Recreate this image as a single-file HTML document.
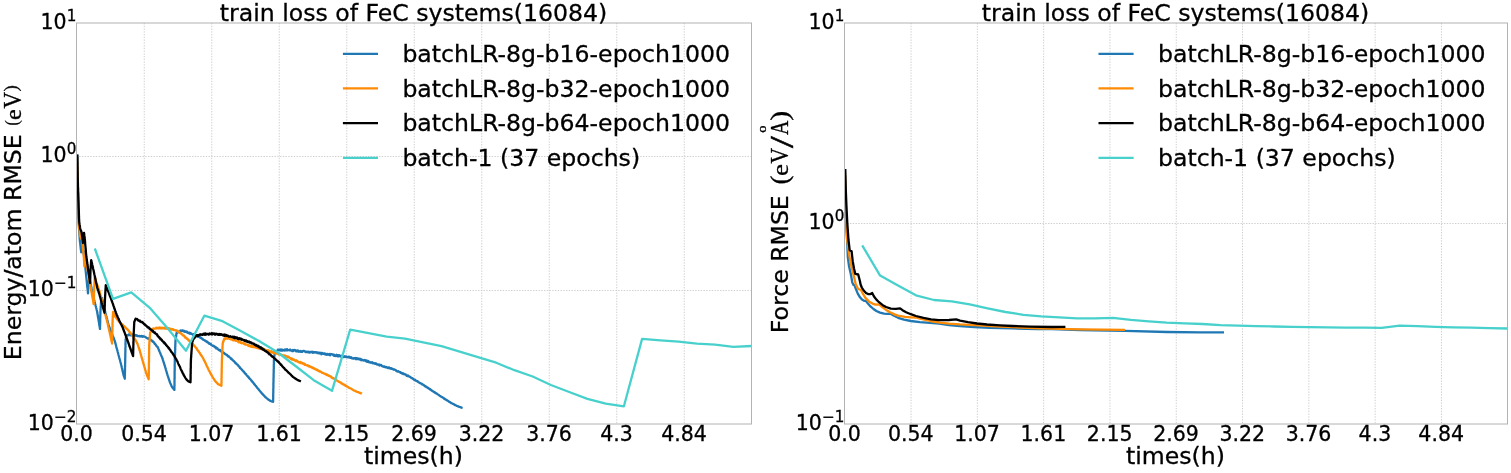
<!DOCTYPE html><html><head><meta charset="utf-8"><title>train loss of FeC systems</title><style>html,body{margin:0;padding:0;background:#fff}svg{display:block}text{font-family:"DejaVu Sans","Liberation Sans",sans-serif;fill:#000;stroke:#000;stroke-width:0.3px}.m{font-family:"Liberation Serif","DejaVu Serif",serif}</style></head><body>
<svg width="1511" height="473" viewBox="0 0 1511 473">
<rect width="1511" height="473" fill="#fff"/>
<line x1="144.25" y1="23.0" x2="144.25" y2="424.0" stroke="#cfcfcf" stroke-width="1" stroke-dasharray="1.4 1.35" fill="none"/>
<line x1="211.75" y1="23.0" x2="211.75" y2="424.0" stroke="#cfcfcf" stroke-width="1" stroke-dasharray="1.4 1.35" fill="none"/>
<line x1="279.25" y1="23.0" x2="279.25" y2="424.0" stroke="#cfcfcf" stroke-width="1" stroke-dasharray="1.4 1.35" fill="none"/>
<line x1="346.75" y1="23.0" x2="346.75" y2="424.0" stroke="#cfcfcf" stroke-width="1" stroke-dasharray="1.4 1.35" fill="none"/>
<line x1="414.25" y1="23.0" x2="414.25" y2="424.0" stroke="#cfcfcf" stroke-width="1" stroke-dasharray="1.4 1.35" fill="none"/>
<line x1="481.75" y1="23.0" x2="481.75" y2="424.0" stroke="#cfcfcf" stroke-width="1" stroke-dasharray="1.4 1.35" fill="none"/>
<line x1="549.25" y1="23.0" x2="549.25" y2="424.0" stroke="#cfcfcf" stroke-width="1" stroke-dasharray="1.4 1.35" fill="none"/>
<line x1="616.75" y1="23.0" x2="616.75" y2="424.0" stroke="#cfcfcf" stroke-width="1" stroke-dasharray="1.4 1.35" fill="none"/>
<line x1="684.25" y1="23.0" x2="684.25" y2="424.0" stroke="#cfcfcf" stroke-width="1" stroke-dasharray="1.4 1.35" fill="none"/>
<line x1="76.5" y1="156.50" x2="751.5" y2="156.50" stroke="#cfcfcf" stroke-width="1" stroke-dasharray="1.4 1.35" fill="none"/>
<line x1="76.5" y1="290.50" x2="751.5" y2="290.50" stroke="#cfcfcf" stroke-width="1" stroke-dasharray="1.4 1.35" fill="none"/>
<line x1="911.05" y1="23.0" x2="911.05" y2="424.0" stroke="#cfcfcf" stroke-width="1" stroke-dasharray="1.4 1.35" fill="none"/>
<line x1="977.35" y1="23.0" x2="977.35" y2="424.0" stroke="#cfcfcf" stroke-width="1" stroke-dasharray="1.4 1.35" fill="none"/>
<line x1="1043.65" y1="23.0" x2="1043.65" y2="424.0" stroke="#cfcfcf" stroke-width="1" stroke-dasharray="1.4 1.35" fill="none"/>
<line x1="1109.95" y1="23.0" x2="1109.95" y2="424.0" stroke="#cfcfcf" stroke-width="1" stroke-dasharray="1.4 1.35" fill="none"/>
<line x1="1176.25" y1="23.0" x2="1176.25" y2="424.0" stroke="#cfcfcf" stroke-width="1" stroke-dasharray="1.4 1.35" fill="none"/>
<line x1="1242.55" y1="23.0" x2="1242.55" y2="424.0" stroke="#cfcfcf" stroke-width="1" stroke-dasharray="1.4 1.35" fill="none"/>
<line x1="1308.85" y1="23.0" x2="1308.85" y2="424.0" stroke="#cfcfcf" stroke-width="1" stroke-dasharray="1.4 1.35" fill="none"/>
<line x1="1375.15" y1="23.0" x2="1375.15" y2="424.0" stroke="#cfcfcf" stroke-width="1" stroke-dasharray="1.4 1.35" fill="none"/>
<line x1="1441.45" y1="23.0" x2="1441.45" y2="424.0" stroke="#cfcfcf" stroke-width="1" stroke-dasharray="1.4 1.35" fill="none"/>
<line x1="844.5" y1="223.50" x2="1507.5" y2="223.50" stroke="#cfcfcf" stroke-width="1" stroke-dasharray="1.4 1.35" fill="none"/>
<defs><clipPath id="cl"><rect x="76.5" y="23.0" width="675.0" height="401.0"/></clipPath><clipPath id="cr"><rect x="844.5" y="23.0" width="663.0" height="401.0"/></clipPath></defs>
<polyline clip-path="url(#cl)" points="77.3,154.4 77.3,155.4 77.3,156.4 77.4,157.5 77.4,158.5 77.4,159.5 77.4,160.5 77.4,161.5 77.5,162.5 77.5,163.6 77.5,164.6 77.5,165.6 77.5,166.6 77.6,167.6 77.6,168.6 77.6,169.7 77.6,170.7 77.6,171.7 77.7,172.7 77.7,173.7 77.7,174.7 77.7,175.8 77.7,176.8 77.8,177.8 77.8,178.8 77.8,179.8 77.8,180.8 77.8,181.9 77.9,182.9 77.9,183.9 77.9,184.9 77.9,185.9 77.9,186.9 78.0,188.0 78.0,189.0 78.0,190.0 78.0,191.0 78.0,192.0 78.1,193.0 78.1,194.0 78.1,195.0 78.1,196.0 78.1,197.0 78.2,198.0 78.2,199.0 78.2,200.0 78.2,201.0 78.2,202.0 78.2,203.0 78.3,204.0 78.3,205.0 78.3,206.0 78.3,207.0 78.3,208.0 78.4,209.0 78.4,210.0 78.4,211.0 78.4,212.0 78.4,213.0 78.4,214.0 78.5,215.0 78.5,216.0 78.5,217.0 78.5,218.0 78.5,219.0 78.6,220.0 78.6,221.0 78.6,222.0 78.7,223.0 78.7,224.0 78.8,225.0 78.9,226.0 78.9,227.0 79.0,228.0 79.1,229.0 79.1,230.0 79.2,231.0 79.3,232.0 79.3,233.0 79.4,234.0 79.5,235.0 79.5,236.0 79.6,237.0 79.7,238.0 79.7,239.0 79.8,240.0 79.9,241.0 80.0,242.1 80.2,243.1 80.3,244.1 80.4,245.1 80.5,246.2 80.6,247.2 80.7,248.2 80.8,249.2 81.0,250.2 81.1,251.3 81.2,252.3 81.2,251.3 81.3,250.2 81.3,249.2 81.4,248.2 81.5,247.1 81.5,246.1 81.5,245.0 81.6,244.0 81.7,242.8 81.9,241.7 82.0,240.5 82.1,241.5 82.3,242.6 82.4,243.6 82.5,244.7 82.7,245.7 82.8,246.8 83.0,247.8 83.1,248.9 83.2,249.9 83.4,251.0 83.5,252.0 83.6,253.0 83.7,254.0 83.9,255.0 84.0,256.0 84.1,257.0 84.2,258.0 84.3,259.0 84.5,260.0 84.6,261.0 84.7,262.0 84.8,263.0 84.9,264.0 85.0,265.0 85.2,266.0 85.3,267.0 85.4,268.0 85.5,269.0 85.6,270.0 85.7,271.0 85.8,272.0 85.9,273.0 86.0,274.0 86.1,275.0 86.2,276.0 86.3,277.0 86.4,278.0 86.5,279.0 86.6,280.0 86.7,281.0 86.8,282.0 86.9,283.0 87.0,284.1 87.1,285.1 87.2,286.1 87.3,287.1 87.5,288.2 87.6,289.2 87.7,290.2 87.8,291.2 87.9,292.3 88.0,293.3 88.1,292.3 88.1,291.2 88.2,290.2 88.2,289.2 88.3,288.1 88.3,287.1 88.4,286.1 88.4,285.0 88.5,284.0 88.7,282.9 88.8,281.8 89.0,280.7 89.1,279.6 89.3,278.5 89.6,279.6 89.9,280.8 90.2,281.9 90.5,283.0 90.7,284.0 90.9,285.0 91.1,286.0 91.3,287.0 91.4,288.0 91.6,289.0 91.8,290.0 92.0,291.0 92.2,292.0 92.5,293.0 92.7,294.0 93.0,295.0 93.2,296.0 93.5,297.0 93.7,298.0 94.0,299.0 94.2,300.0 94.5,301.0 94.7,302.0 95.0,303.0 95.2,304.0 95.5,305.0 95.7,306.0 96.0,307.0 96.2,308.0 96.5,309.0 96.7,310.0 97.0,311.0 97.2,312.0 97.3,313.0 97.5,314.0 97.7,315.0 97.8,316.0 98.0,317.0 98.2,318.0 98.4,319.0 98.5,320.0 98.7,321.0 98.9,322.0 99.0,323.0 99.2,324.0 99.3,324.9 99.5,325.9 99.7,326.9 99.8,327.9 100.0,328.9 100.0,327.8 100.0,326.8 100.1,325.7 100.1,324.7 100.1,323.6 100.2,322.6 100.2,321.5 100.2,320.4 100.2,319.4 100.2,318.3 100.3,317.3 100.3,316.2 100.3,315.2 100.4,314.1 100.4,313.1 100.4,312.0 100.5,311.0 100.5,309.9 100.6,308.9 100.7,307.8 100.7,306.8 100.8,305.8 100.9,304.7 100.9,303.7 101.0,302.6 101.1,301.6 101.1,300.5 101.2,299.5 102.0,298.0 102.2,299.0 102.5,300.0 102.7,301.0 102.9,302.0 103.1,303.0 103.4,304.0 103.6,305.0 103.8,306.0 104.0,307.0 104.3,308.0 104.5,309.0 104.8,310.0 105.0,311.0 105.3,312.0 105.5,313.0 105.8,314.0 106.1,315.0 106.3,316.0 106.6,317.0 106.8,318.0 107.1,319.0 107.3,320.0 107.6,321.0 107.9,322.0 108.1,323.0 108.4,324.0 108.6,325.0 108.9,326.0 109.3,327.0 109.7,328.0 110.1,329.0 110.5,330.0 110.8,331.0 111.2,332.0 111.6,333.0 112.0,334.0 112.4,334.9 112.8,335.9 113.2,336.8 113.5,337.8 113.9,338.7 114.3,339.7 114.7,340.6 115.0,341.6 115.2,342.7 115.5,343.7 115.8,344.7 116.1,345.8 116.3,346.8 116.6,347.8 116.9,348.9 117.2,349.9 117.5,350.9 117.7,352.0 118.0,353.0 118.3,354.0 118.5,355.0 118.8,356.0 119.1,357.0 119.3,358.0 119.6,359.0 119.9,360.0 120.2,361.0 120.4,362.0 120.7,363.0 121.0,364.0 121.2,365.0 121.5,366.0 121.7,367.0 121.9,368.0 122.2,369.0 122.4,370.0 122.6,371.0 122.8,372.0 123.1,373.0 123.3,374.0 123.5,375.0 123.9,376.2 124.4,377.5 124.8,378.7 124.8,377.7 124.8,376.6 124.9,375.6 124.9,374.5 124.9,373.5 124.9,372.5 125.0,371.4 125.0,370.4 125.0,369.4 125.0,368.3 125.0,367.3 125.1,366.2 125.1,365.2 125.1,364.2 125.1,363.1 125.2,362.1 125.2,361.0 125.2,360.0 125.2,359.0 125.2,358.0 125.3,357.0 125.3,356.0 125.3,355.0 125.3,354.0 125.3,353.0 125.4,352.0 125.4,351.0 125.4,350.0 125.4,349.0 125.4,348.0 125.5,347.0 125.5,346.0 125.5,345.0 125.5,344.0 125.5,343.0 125.6,342.0 125.6,341.0 125.6,340.0 125.8,338.9 125.9,337.9 126.1,336.8 126.3,335.7 126.7,335.3 127.1,335.5 127.5,335.2 127.9,335.3 128.3,335.2 128.7,334.5 129.1,334.3 129.5,335.1 129.9,334.4 130.3,334.4 130.7,335.2 131.1,334.8 131.5,335.2 131.9,334.9 132.3,335.1 132.7,334.7 133.1,335.2 133.5,335.5 133.9,335.3 134.3,335.5 134.7,335.5 135.1,335.0 135.5,335.7 135.9,335.6 136.3,335.4 136.7,335.2 137.1,336.1 137.5,335.8 137.9,336.0 138.3,336.2 138.7,336.1 139.1,336.3 139.5,335.9 139.9,336.3 140.3,336.1 140.7,336.5 141.1,336.5 141.5,335.9 141.9,336.0 142.3,336.1 142.7,336.8 143.1,336.4 143.5,336.6 143.9,336.3 144.3,336.7 144.7,336.7 145.1,336.9 145.5,337.2 145.9,337.4 146.3,337.8 146.6,337.8 147.0,338.2 147.4,338.3 147.8,338.6 148.2,338.5 148.6,338.3 149.0,339.0 149.3,339.3 149.7,339.5 150.0,339.5 150.4,339.8 150.7,339.7 151.0,340.4 151.4,340.5 151.7,340.5 152.0,340.6 152.4,341.4 152.7,341.7 153.1,341.4 153.4,342.1 153.7,342.2 153.9,342.3 154.2,342.7 154.4,343.3 154.7,343.7 154.9,343.5 155.2,344.2 155.4,344.2 155.7,344.9 155.9,345.0 156.2,345.6 156.4,346.0 156.7,346.0 156.9,346.6 157.2,346.6 157.4,346.8 157.7,347.3 157.9,347.4 158.1,347.8 158.2,348.3 158.4,348.8 158.5,349.0 158.7,349.3 158.9,350.0 159.0,350.2 159.2,350.8 159.4,351.2 159.5,351.3 159.7,351.7 159.8,352.1 160.0,352.6 160.2,352.9 160.3,353.3 160.5,353.7 160.6,354.2 160.8,354.4 160.9,354.7 161.1,355.2 161.2,355.4 161.4,355.8 161.6,356.4 161.7,356.6 161.9,357.0 162.0,357.2 162.2,357.7 162.3,358.2 162.5,358.4 162.6,358.9 162.8,359.3 162.9,359.6 163.0,360.1 163.1,360.5 163.2,361.0 163.4,361.3 163.5,361.8 163.6,362.2 163.8,362.4 163.9,362.8 164.0,363.3 164.1,363.8 164.2,364.0 164.4,364.5 164.5,364.9 164.6,365.3 164.8,365.7 164.9,366.1 165.0,366.5 165.1,366.9 165.2,367.2 165.3,367.6 165.5,368.1 165.6,368.3 165.7,368.8 165.8,369.3 165.9,369.6 166.0,369.9 166.1,370.4 166.2,370.7 166.4,371.1 166.5,371.5 166.6,371.9 166.7,372.2 166.8,372.6 166.9,373.0 167.0,373.5 167.2,373.8 167.3,374.3 167.4,374.6 167.5,375.0 167.6,375.4 167.8,375.9 167.9,376.2 168.0,376.5 168.2,376.9 168.3,377.4 168.4,377.7 168.6,378.2 168.7,378.6 168.8,378.9 168.9,379.3 169.1,379.8 169.2,380.1 169.3,380.6 169.5,380.9 169.6,381.3 169.7,381.7 169.9,382.1 170.0,382.5 170.2,382.9 170.3,383.2 170.5,383.6 170.7,384.0 170.8,384.4 171.0,384.7 171.2,385.1 171.3,385.5 171.5,385.9 171.7,386.3 171.8,386.6 172.0,387.0 172.3,387.3 172.5,387.6 172.8,388.0 173.1,388.3 173.3,388.6 173.6,388.9 173.9,389.3 174.1,389.6 174.4,389.9 174.4,389.5 174.4,389.1 174.4,388.7 174.4,388.3 174.4,387.9 174.4,387.5 174.4,387.1 174.4,386.7 174.4,386.3 174.5,385.9 174.5,385.5 174.5,385.1 174.5,384.6 174.5,384.2 174.5,383.8 174.5,383.4 174.5,383.0 174.5,382.6 174.5,382.2 174.5,381.8 174.5,381.4 174.5,381.0 174.5,380.6 174.5,380.2 174.5,379.8 174.5,379.4 174.5,379.0 174.6,378.6 174.6,378.2 174.6,377.8 174.6,377.4 174.6,377.0 174.6,376.6 174.6,376.2 174.6,375.8 174.6,375.4 174.6,374.9 174.6,374.5 174.6,374.1 174.6,373.7 174.6,373.3 174.6,372.9 174.6,372.5 174.6,372.1 174.6,371.7 174.6,371.3 174.7,370.9 174.7,370.5 174.7,370.1 174.7,369.7 174.7,369.3 174.7,368.9 174.7,368.5 174.7,368.1 174.7,367.7 174.7,367.3 174.7,366.9 174.7,366.5 174.7,366.1 174.7,365.7 174.7,365.3 174.7,364.8 174.7,364.4 174.7,364.0 174.8,363.6 174.8,363.2 174.8,362.8 174.8,362.4 174.8,362.0 174.8,361.6 174.8,361.2 174.8,360.8 174.8,360.4 174.8,360.0 174.8,359.6 174.8,359.2 174.8,358.8 174.9,358.4 174.9,358.0 174.9,357.6 174.9,357.2 174.9,356.8 174.9,356.4 174.9,356.0 175.0,355.6 175.0,355.2 175.0,354.8 175.0,354.4 175.0,354.0 175.0,353.6 175.0,353.2 175.1,352.8 175.1,352.4 175.1,352.0 175.1,351.6 175.1,351.2 175.1,350.8 175.1,350.4 175.2,350.0 175.2,349.6 175.2,349.2 175.2,348.8 175.2,348.4 175.2,348.0 175.2,347.6 175.2,347.2 175.3,346.8 175.3,346.4 175.3,346.0 175.3,345.6 175.3,345.2 175.3,344.8 175.3,344.4 175.4,344.0 175.4,343.6 175.4,343.2 175.4,342.8 175.4,342.4 175.4,342.0 175.4,341.6 175.5,341.2 175.5,340.8 175.5,340.4 175.5,340.0 175.6,339.6 175.6,339.2 175.7,338.8 175.8,338.4 175.8,338.0 175.9,337.6 175.9,337.2 176.0,336.8 176.1,336.3 176.1,335.9 176.2,335.5 176.2,335.1 176.3,334.7 176.4,334.3 176.4,333.9 176.5,333.2 176.8,332.7 177.0,332.9 177.3,332.2 177.5,332.5 177.8,331.3 178.2,332.2 178.6,331.8 179.0,332.0 179.4,331.9 179.8,331.8 180.2,331.3 180.5,330.5 180.9,331.3 181.3,330.5 181.7,330.6 182.1,330.9 182.5,330.6 182.9,330.4 183.3,331.2 183.7,330.9 184.1,330.8 184.4,330.8 184.8,331.7 185.2,331.4 185.6,331.9 186.0,331.6 186.4,331.5 186.8,332.1 187.2,332.6 187.5,332.0 187.9,332.8 188.3,333.1 188.7,333.2 189.1,333.3 189.5,332.6 189.9,333.4 190.2,333.8 190.6,333.1 191.0,333.5 191.4,333.6 191.8,334.1 192.2,334.1 192.5,334.3 192.9,334.8 193.3,334.1 193.7,334.3 194.1,334.6 194.5,334.7 194.8,334.8 195.2,336.0 195.6,336.0 196.0,335.3 196.4,335.9 196.7,335.9 197.1,336.0 197.5,336.2 197.9,336.7 198.3,336.8 198.7,336.7 199.0,336.7 199.4,337.0 199.8,336.9 200.1,337.6 200.5,338.0 200.8,337.8 201.2,337.7 201.5,338.1 201.9,338.5 202.2,338.9 202.6,339.3 202.9,339.1 203.2,339.8 203.6,339.8 203.9,339.9 204.3,340.0 204.6,340.4 205.0,340.8 205.3,340.7 205.6,341.2 206.0,341.2 206.3,341.2 206.7,341.7 207.0,342.1 207.4,341.7 207.7,342.3 208.1,342.5 208.4,343.1 208.7,343.4 209.1,343.1 209.4,343.8 209.8,343.9 210.1,343.6 210.5,344.0 210.8,343.9 211.1,344.8 211.5,344.9 211.8,345.3 212.2,345.5 212.5,345.6 212.8,345.9 213.2,345.9 213.5,345.7 213.9,346.4 214.2,346.1 214.5,346.5 214.9,347.3 215.2,346.8 215.6,347.1 215.9,347.3 216.2,348.3 216.6,347.9 216.9,347.9 217.3,348.9 217.6,348.5 217.9,349.4 218.3,349.4 218.6,349.8 219.0,350.1 219.3,350.0 219.6,350.5 220.0,350.0 220.3,350.9 220.7,350.9 221.0,351.3 221.3,351.0 221.7,351.8 222.0,352.2 222.4,351.7 222.7,352.1 223.0,352.6 223.4,353.0 223.7,352.8 224.1,352.9 224.4,353.2 224.7,353.8 225.1,354.1 225.4,354.1 225.8,354.3 226.1,354.6 226.4,354.7 226.8,355.0 227.1,355.0 227.5,355.6 227.8,356.2 228.1,356.0 228.5,356.5 228.8,356.2 229.2,356.9 229.5,357.2 229.8,357.4 230.1,357.6 230.4,357.8 230.7,358.3 231.0,358.8 231.3,358.4 231.6,358.7 231.9,359.5 232.2,359.9 232.5,359.9 232.8,360.1 233.0,360.6 233.3,360.5 233.6,360.8 233.9,361.1 234.2,361.6 234.5,361.7 234.8,362.0 235.1,362.6 235.4,363.1 235.7,362.9 236.0,363.4 236.3,363.5 236.6,364.2 236.8,364.3 237.1,364.4 237.4,364.6 237.7,364.8 238.0,365.4 238.3,365.7 238.5,365.8 238.8,366.3 239.1,366.5 239.4,367.1 239.7,367.0 239.9,367.9 240.2,367.9 240.5,368.2 240.8,368.5 241.1,369.0 241.4,369.3 241.6,369.4 241.9,369.7 242.2,370.1 242.5,370.5 242.7,370.5 243.0,371.0 243.3,371.5 243.5,371.5 243.8,371.6 244.1,371.9 244.3,372.5 244.6,372.8 244.8,373.3 245.1,373.5 245.4,373.5 245.6,373.7 245.9,374.1 246.2,374.3 246.4,374.9 246.7,375.3 247.0,375.6 247.2,375.6 247.5,376.2 247.8,376.2 248.0,376.6 248.3,377.1 248.6,377.1 248.9,377.4 249.1,378.1 249.4,378.1 249.7,378.5 249.9,378.9 250.2,379.3 250.5,379.3 250.8,379.7 251.0,380.1 251.3,380.5 251.6,380.6 251.8,381.1 252.1,381.6 252.4,381.7 252.7,382.1 252.9,382.2 253.2,382.6 253.5,383.1 253.7,383.2 254.0,383.8 254.2,384.1 254.5,384.1 254.7,384.8 255.0,384.9 255.3,385.4 255.5,385.7 255.8,385.8 256.0,386.3 256.3,386.6 256.5,387.0 256.8,387.1 257.1,387.6 257.3,388.0 257.6,388.2 257.8,388.4 258.1,388.6 258.4,389.1 258.6,389.3 258.9,389.8 259.1,390.1 259.4,390.4 259.6,390.5 259.9,391.0 260.2,391.3 260.4,391.5 260.7,392.1 260.9,392.3 261.2,392.4 261.4,393.0 261.7,393.1 262.0,393.5 262.3,393.9 262.6,394.2 262.9,394.4 263.2,394.8 263.5,395.0 263.7,395.3 264.0,395.6 264.3,395.9 264.6,396.3 264.9,396.6 265.2,396.9 265.5,397.3 265.8,397.4 266.2,397.7 266.5,398.0 266.8,398.4 267.2,398.5 267.5,398.9 267.8,399.1 268.2,399.5 268.5,399.7 268.9,399.9 269.2,400.1 269.6,400.3 269.9,400.6 270.3,400.8 270.6,401.0 271.0,401.2 271.4,401.3 271.8,401.4 272.3,401.5 272.7,401.7 273.1,401.8 273.1,401.4 273.1,401.0 273.1,400.6 273.1,400.2 273.1,399.8 273.1,399.4 273.2,399.0 273.2,398.6 273.2,398.2 273.2,397.8 273.2,397.4 273.2,397.0 273.2,396.6 273.2,396.1 273.2,395.7 273.2,395.3 273.2,394.9 273.2,394.5 273.2,394.1 273.2,393.7 273.3,393.3 273.3,392.9 273.3,392.5 273.3,392.1 273.3,391.7 273.3,391.3 273.3,390.9 273.3,390.5 273.3,390.1 273.3,389.7 273.3,389.3 273.3,388.9 273.3,388.5 273.4,388.1 273.4,387.7 273.4,387.3 273.4,386.9 273.4,386.5 273.4,386.1 273.4,385.7 273.4,385.2 273.4,384.8 273.4,384.4 273.4,384.0 273.4,383.6 273.4,383.2 273.4,382.8 273.5,382.4 273.5,382.0 273.5,381.6 273.5,381.2 273.5,380.8 273.5,380.4 273.5,380.0 273.5,379.6 273.5,379.2 273.5,378.8 273.5,378.4 273.5,378.0 273.6,377.6 273.6,377.2 273.6,376.8 273.6,376.4 273.6,376.0 273.6,375.6 273.6,375.2 273.6,374.8 273.6,374.4 273.6,374.0 273.6,373.6 273.7,373.2 273.7,372.8 273.7,372.4 273.7,372.0 273.7,371.6 273.7,371.2 273.7,370.8 273.7,370.4 273.7,370.0 273.7,369.6 273.7,369.2 273.8,368.8 273.8,368.4 273.8,368.0 273.8,367.6 273.8,367.2 273.8,366.8 273.8,366.4 273.8,366.0 273.8,365.6 273.8,365.2 273.8,364.8 273.9,364.4 273.9,364.0 273.9,363.6 273.9,363.2 273.9,362.8 273.9,362.4 273.9,362.0 273.9,361.6 273.9,361.2 273.9,360.8 273.9,360.4 274.0,360.0 274.0,359.6 274.0,359.2 274.0,358.8 274.0,358.4 274.0,358.0 274.1,357.6 274.2,357.2 274.2,356.7 274.3,356.3 274.4,355.9 274.5,355.5 274.5,355.0 274.6,354.6 274.7,354.2 274.8,353.8 274.8,353.3 274.9,352.9 275.0,352.8 275.4,351.8 275.7,351.5 276.1,351.6 276.4,351.8 276.8,351.6 277.1,351.2 277.4,350.7 277.8,349.8 278.2,350.1 278.6,349.8 279.0,350.3 279.4,350.3 279.8,349.7 280.2,349.8 280.6,350.5 281.0,349.4 281.4,350.5 281.8,350.6 282.2,350.7 282.6,349.8 283.0,350.0 283.4,350.0 283.8,350.1 284.2,350.6 284.6,350.1 285.0,349.5 285.4,350.4 285.8,349.8 286.2,350.1 286.6,350.3 287.0,349.2 287.4,350.4 287.8,350.3 288.2,350.1 288.6,350.1 289.0,350.1 289.4,349.7 289.8,350.3 290.2,349.6 290.6,350.3 291.0,350.5 291.4,350.3 291.8,350.5 292.2,351.1 292.6,351.0 293.0,350.0 293.4,351.0 293.8,350.7 294.2,349.9 294.6,350.4 295.0,350.3 295.4,350.1 295.8,350.8 296.2,351.4 296.6,350.6 297.0,351.4 297.4,351.2 297.8,350.4 298.2,351.5 298.6,351.2 299.0,351.7 299.4,351.4 299.9,351.5 300.3,351.0 300.7,351.7 301.1,351.9 301.5,351.8 301.9,351.3 302.3,351.8 302.7,351.4 303.1,350.9 303.5,350.8 303.9,350.9 304.3,351.2 304.7,351.1 305.1,351.7 305.5,352.0 305.9,351.8 306.3,351.7 306.7,352.0 307.1,351.6 307.5,351.9 307.9,352.3 308.4,351.9 308.8,351.6 309.2,352.6 309.6,352.4 310.0,352.0 310.4,352.0 310.8,352.3 311.2,352.4 311.6,351.9 312.0,351.7 312.4,352.0 312.8,352.9 313.2,352.0 313.6,352.5 314.0,352.2 314.4,352.2 314.8,352.2 315.2,352.6 315.6,352.3 316.0,352.2 316.4,352.3 316.8,352.5 317.2,353.0 317.6,352.4 318.0,352.4 318.4,353.1 318.8,353.1 319.2,353.5 319.6,352.7 320.0,353.2 320.4,353.3 320.9,352.8 321.3,354.2 321.7,353.2 322.1,353.0 322.5,353.6 322.9,353.2 323.3,353.9 323.7,353.6 324.1,353.3 324.5,353.3 324.9,354.3 325.3,353.7 325.7,354.5 326.1,354.1 326.5,354.8 326.9,353.9 327.3,353.9 327.7,354.0 328.1,354.8 328.5,354.6 328.9,354.2 329.3,353.9 329.7,354.8 330.1,355.3 330.5,354.8 330.9,354.0 331.3,354.1 331.7,354.3 332.1,354.4 332.5,354.3 332.9,354.4 333.3,355.3 333.8,355.7 334.2,354.7 334.6,355.9 335.0,355.2 335.4,355.7 335.8,356.0 336.2,356.0 336.6,354.8 337.0,355.3 337.4,355.7 337.8,356.3 338.2,355.1 338.6,355.5 339.0,356.3 339.4,355.3 339.8,355.8 340.2,355.8 340.6,356.3 341.0,356.7 341.4,355.7 341.8,356.5 342.3,356.6 342.7,356.8 343.1,356.4 343.5,357.0 343.9,356.3 344.3,356.4 344.7,356.2 345.1,357.0 345.5,356.7 345.9,356.4 346.3,356.4 346.7,357.2 347.1,357.1 347.5,357.3 347.9,356.9 348.3,357.2 348.7,356.8 349.1,357.6 349.4,356.8 349.8,357.4 350.2,357.9 350.6,357.9 351.0,357.2 351.4,357.4 351.8,358.3 352.2,358.1 352.6,358.5 353.0,358.6 353.4,358.1 353.8,358.7 354.2,358.6 354.6,358.1 354.9,358.3 355.3,358.0 355.7,358.5 356.1,359.3 356.5,358.2 356.9,358.9 357.3,358.4 357.7,358.4 358.1,359.2 358.5,358.8 358.9,358.6 359.3,358.8 359.7,359.5 360.1,359.5 360.4,358.9 360.8,359.2 361.2,360.2 361.6,359.4 362.0,359.9 362.4,359.8 362.8,360.3 363.2,360.1 363.6,360.5 364.0,360.3 364.4,360.0 364.7,360.1 365.1,360.1 365.5,361.1 365.9,360.4 366.3,360.4 366.7,361.6 367.1,360.8 367.4,361.8 367.8,360.9 368.2,361.5 368.6,361.3 369.0,362.2 369.4,362.0 369.8,362.2 370.2,362.4 370.5,362.7 370.9,362.2 371.3,362.6 371.7,362.5 372.1,362.3 372.5,363.2 372.9,363.1 373.2,363.4 373.6,362.9 374.0,363.4 374.4,363.4 374.8,363.8 375.2,363.2 375.6,363.6 375.9,363.9 376.3,363.5 376.7,364.2 377.1,364.5 377.5,364.3 377.9,364.7 378.3,364.7 378.7,364.4 379.0,364.7 379.4,365.5 379.8,364.9 380.2,365.1 380.6,364.9 381.0,365.1 381.4,365.2 381.8,366.1 382.2,366.0 382.5,366.3 382.9,366.5 383.3,366.3 383.7,366.7 384.1,366.4 384.5,366.4 384.9,367.1 385.3,367.2 385.7,367.3 386.1,367.0 386.4,367.4 386.8,367.1 387.2,367.8 387.6,367.9 388.0,367.4 388.4,368.1 388.8,367.5 389.2,367.5 389.6,368.3 390.0,368.0 390.4,368.3 390.7,368.5 391.1,368.1 391.5,368.9 391.9,368.5 392.3,368.8 392.7,368.9 393.1,369.4 393.4,369.6 393.8,369.3 394.2,369.3 394.6,369.7 394.9,369.9 395.3,369.8 395.7,370.0 396.1,370.8 396.4,370.9 396.8,371.3 397.2,371.5 397.6,371.5 397.9,371.2 398.3,371.2 398.7,371.5 399.0,371.8 399.4,372.1 399.8,372.2 400.2,372.2 400.5,372.8 400.9,372.5 401.3,372.8 401.7,373.4 402.0,373.5 402.4,373.2 402.8,373.3 403.1,374.0 403.5,373.5 403.9,373.7 404.3,374.2 404.6,374.4 405.0,374.3 405.4,374.4 405.8,374.6 406.1,375.3 406.5,375.2 406.9,375.8 407.3,375.8 407.6,376.1 408.0,375.5 408.3,375.9 408.7,375.9 409.0,376.5 409.4,376.6 409.7,376.6 410.1,377.1 410.4,377.0 410.8,377.4 411.1,377.5 411.5,378.1 411.8,378.1 412.1,378.2 412.5,378.2 412.8,378.7 413.2,379.0 413.5,379.3 413.9,379.6 414.2,379.8 414.6,379.6 414.9,379.7 415.3,380.3 415.6,380.5 415.9,380.6 416.3,381.0 416.6,381.0 417.0,381.0 417.3,381.1 417.7,381.3 418.0,381.9 418.4,382.2 418.7,382.4 419.1,382.4 419.4,382.7 419.7,383.0 420.1,383.2 420.4,383.2 420.8,383.3 421.1,383.6 421.5,383.6 421.8,383.8 422.2,384.3 422.5,384.7 422.9,384.6 423.2,384.7 423.5,384.9 423.9,385.2 424.2,385.6 424.6,385.7 424.9,386.2 425.2,386.0 425.6,386.3 425.9,386.6 426.3,386.8 426.6,387.2 426.9,387.4 427.3,387.7 427.6,387.8 428.0,387.7 428.3,388.2 428.6,388.4 429.0,388.6 429.3,388.7 429.7,389.2 430.0,389.5 430.3,389.3 430.7,389.8 431.0,389.9 431.4,390.2 431.7,390.6 432.0,390.8 432.4,390.9 432.7,391.0 433.1,391.5 433.4,391.4 433.7,391.7 434.1,392.1 434.4,392.1 434.8,392.3 435.1,392.8 435.4,393.1 435.8,393.0 436.1,393.3 436.5,393.5 436.8,393.6 437.1,393.9 437.5,394.4 437.8,394.3 438.2,394.6 438.5,394.8 438.8,395.0 439.2,395.3 439.5,395.6 439.9,395.9 440.2,396.0 440.6,396.3 440.9,396.3 441.2,396.6 441.6,397.0 441.9,396.9 442.3,397.2 442.6,397.5 443.0,397.7 443.3,398.0 443.6,398.0 444.0,398.3 444.3,398.8 444.7,398.7 445.0,399.2 445.4,399.2 445.7,399.6 446.1,399.8 446.4,400.0 446.7,400.0 447.1,400.2 447.4,400.7 447.8,400.7 448.1,400.9 448.5,401.3 448.8,401.6 449.1,401.6 449.5,402.0 449.8,402.1 450.2,402.3 450.5,402.5 450.9,402.8 451.2,403.1 451.6,403.1 451.9,403.3 452.3,403.5 452.6,403.7 453.0,403.9 453.4,404.2 453.7,404.2 454.1,404.4 454.5,404.8 454.8,405.0 455.2,405.2 455.6,405.2 455.9,405.4 456.3,405.7 456.6,405.8 457.0,406.0 457.4,406.1 457.8,406.2 458.2,406.4 458.6,406.6 459.0,406.8 459.4,406.9 459.8,407.0 460.2,407.1 460.6,407.3 461.0,407.4 461.4,407.6 461.8,407.7 462.2,407.9 462.6,408.0" fill="none" stroke="#1f77b4" stroke-width="2.3" stroke-linejoin="round" stroke-linecap="butt"/>
<polyline clip-path="url(#cl)" points="77.0,156.0 77.0,157.0 77.1,158.0 77.1,159.0 77.1,160.0 77.1,161.0 77.2,162.0 77.2,163.0 77.2,164.0 77.3,165.0 77.3,166.0 77.3,167.0 77.4,168.0 77.4,169.0 77.4,170.0 77.4,171.0 77.5,172.0 77.5,173.0 77.5,174.0 77.6,175.0 77.6,176.0 77.6,177.0 77.6,178.0 77.7,179.0 77.7,180.0 77.7,181.0 77.8,182.0 77.8,183.0 77.8,184.0 77.9,185.0 77.9,186.0 77.9,187.0 77.9,188.0 78.0,189.0 78.0,190.0 78.0,191.0 78.0,192.0 78.1,193.0 78.1,194.0 78.1,195.0 78.2,196.0 78.2,197.0 78.2,198.0 78.2,199.0 78.2,200.0 78.3,201.0 78.3,202.0 78.3,203.0 78.3,204.0 78.4,205.0 78.4,206.0 78.4,207.0 78.5,208.0 78.5,209.0 78.5,210.0 78.5,211.0 78.5,212.0 78.6,213.0 78.6,214.0 78.6,215.0 78.6,216.0 78.7,217.0 78.7,218.0 78.7,219.0 78.8,220.0 78.8,221.0 78.8,222.0 78.9,223.0 79.0,224.0 79.1,225.0 79.1,226.0 79.2,227.0 79.3,228.0 79.4,229.0 79.5,230.0 79.6,231.0 79.7,232.0 79.7,233.0 79.8,234.0 79.9,235.0 80.0,236.0 80.5,237.0 81.0,238.0 81.5,239.0 82.0,240.0 82.1,241.0 82.2,242.0 82.3,243.0 82.5,244.0 82.6,245.0 82.7,246.0 82.8,247.0 82.9,248.0 83.0,249.0 83.1,250.0 83.2,251.0 83.4,252.0 83.5,253.0 83.6,254.0 83.7,255.0 83.8,256.0 83.8,257.1 83.9,258.1 84.0,259.2 84.0,260.2 84.1,261.3 84.1,262.3 84.2,263.4 84.3,264.4 84.3,265.5 84.4,266.5 84.5,265.4 84.5,264.4 84.6,263.3 84.7,262.2 84.7,261.2 84.8,260.1 84.8,259.1 84.9,258.0 85.2,257.0 85.6,256.0 85.7,257.0 85.9,258.0 86.0,259.0 86.2,260.0 86.3,261.0 86.4,262.0 86.6,263.0 86.7,264.0 86.9,265.0 87.0,266.0 87.2,267.0 87.3,268.0 87.5,269.0 87.6,270.0 87.8,271.0 88.0,272.0 88.2,273.0 88.3,274.0 88.5,275.0 88.7,276.0 88.8,277.0 89.0,278.0 89.2,279.0 89.4,280.0 89.6,281.0 89.8,282.0 89.9,283.0 90.1,284.0 90.3,285.0 90.5,286.0 90.7,287.0 90.8,288.0 91.0,289.0 91.2,290.0 91.3,291.0 91.5,292.0 91.7,293.0 91.9,294.0 92.0,295.1 92.2,296.1 92.4,297.1 92.6,298.1 92.8,299.1 93.0,300.1 93.2,301.1 93.3,302.2 93.5,303.2 93.7,304.2 93.7,303.2 93.8,302.2 93.8,301.2 93.8,300.1 93.9,299.1 93.9,298.1 93.9,297.1 94.0,296.1 94.0,295.1 94.0,294.1 94.0,293.1 94.1,292.1 94.1,291.0 94.1,290.0 94.2,289.0 94.2,288.0 94.3,287.0 94.3,286.0 94.4,285.0 94.4,284.0 94.5,283.0 94.5,282.0 94.6,281.0 94.6,280.0 94.7,279.0 94.7,278.0 94.8,277.0 95.1,278.0 95.4,279.0 95.7,280.0 95.9,281.0 96.2,282.0 96.5,283.0 96.9,284.0 97.2,285.0 97.6,286.0 98.0,287.0 98.3,288.0 98.7,289.0 99.1,290.0 99.4,291.0 99.8,292.0 100.0,293.0 100.3,294.0 100.5,295.0 100.8,296.0 101.0,297.0 101.3,298.0 101.5,299.0 101.7,300.0 102.0,301.0 102.2,302.0 102.5,303.0 102.7,304.0 103.0,305.0 103.2,306.0 103.4,307.0 103.7,308.0 103.9,309.0 104.2,310.0 104.4,311.0 104.7,312.0 104.9,313.0 105.2,314.0 105.4,315.0 105.7,316.0 106.0,317.0 106.2,318.0 106.5,319.0 106.8,320.0 107.0,321.0 107.3,322.0 107.5,323.0 107.8,324.0 108.0,325.0 108.2,326.0 108.4,327.0 108.7,328.0 108.9,329.0 109.1,330.0 109.3,331.0 109.6,332.0 109.8,333.0 110.0,334.1 110.3,335.1 110.5,336.1 110.7,337.2 110.9,338.2 111.2,339.3 111.4,340.4 111.6,341.4 111.9,342.4 112.1,343.5 112.1,342.5 112.1,341.5 112.2,340.4 112.2,339.4 112.2,338.4 112.2,337.4 112.3,336.3 112.3,335.3 112.3,334.3 112.3,333.3 112.3,332.3 112.4,331.2 112.4,330.2 112.4,329.2 112.4,328.2 112.4,327.2 112.5,326.1 112.5,325.1 112.5,324.1 112.5,323.1 112.6,322.0 112.6,321.0 112.6,320.0 112.7,319.0 112.7,317.9 112.8,316.9 112.8,315.9 112.9,314.9 113.0,313.9 113.0,312.8 113.1,311.8 113.3,312.2 113.4,312.6 113.6,313.3 113.8,313.6 114.0,313.5 114.1,314.4 114.3,314.7 114.5,314.6 114.7,315.1 114.8,315.4 115.0,315.7 115.2,316.7 115.5,316.6 115.7,317.3 115.9,317.1 116.2,317.3 116.4,318.3 116.6,318.5 116.9,319.0 117.1,319.1 117.3,319.4 117.6,319.9 117.8,319.7 118.0,320.4 118.3,320.6 118.5,320.8 118.8,321.3 119.1,321.4 119.4,321.8 119.7,322.0 120.0,322.3 120.3,322.6 120.6,323.0 120.9,323.5 121.2,323.8 121.5,324.0 121.8,324.2 122.1,324.2 122.4,324.9 122.7,324.7 123.0,324.9 123.3,325.4 123.6,325.8 123.9,325.9 124.2,326.3 124.5,326.4 124.8,327.1 125.1,327.1 125.4,327.4 125.7,327.7 126.0,328.2 126.2,328.5 126.5,328.6 126.8,328.8 127.1,329.2 127.4,329.2 127.7,329.7 128.0,330.2 128.3,330.5 128.5,330.4 128.8,331.2 129.1,331.2 129.3,331.9 129.6,331.9 129.9,332.1 130.1,332.6 130.4,333.1 130.6,333.2 130.9,333.7 131.2,334.0 131.4,334.1 131.7,334.4 132.0,334.9 132.2,335.1 132.5,335.4 132.7,335.9 133.0,336.4 133.2,336.6 133.4,336.7 133.7,337.1 133.9,337.5 134.1,338.0 134.3,338.1 134.6,338.4 134.8,338.9 135.0,339.2 135.3,339.4 135.5,340.0 135.7,340.6 135.9,340.8 136.1,341.2 136.3,341.7 136.5,342.0 136.7,342.4 136.9,342.6 137.1,343.1 137.3,343.3 137.5,343.9 137.6,344.1 137.8,344.6 137.9,345.1 138.0,345.2 138.1,345.6 138.3,346.2 138.4,346.5 138.5,346.7 138.6,347.1 138.8,347.6 138.9,347.8 139.0,348.5 139.1,348.6 139.3,349.1 139.4,349.5 139.5,349.9 139.6,350.3 139.8,350.8 139.9,351.2 140.0,351.5 140.1,351.8 140.2,352.5 140.4,352.8 140.5,353.0 140.6,353.5 140.7,354.0 140.8,354.5 140.9,354.7 141.1,355.1 141.2,355.6 141.3,356.0 141.4,356.5 141.5,356.9 141.6,357.1 141.8,357.6 141.9,358.0 142.0,358.5 142.1,358.7 142.2,359.1 142.3,359.5 142.4,360.0 142.5,360.3 142.7,360.8 142.8,361.2 142.9,361.6 143.0,361.9 143.1,362.3 143.2,362.7 143.3,363.2 143.4,363.5 143.6,363.9 143.7,364.4 143.8,364.7 143.9,365.1 144.0,365.5 144.1,365.9 144.2,366.3 144.3,366.6 144.5,367.0 144.6,367.4 144.7,367.8 144.8,368.2 144.9,368.6 145.0,369.0 145.1,369.4 145.2,369.7 145.4,370.1 145.5,370.5 145.6,370.9 145.7,371.3 145.8,371.7 145.9,372.0 146.0,372.5 146.2,372.9 146.3,373.2 146.4,373.6 146.5,374.0 146.7,374.4 146.8,374.7 147.0,375.1 147.1,375.5 147.3,375.9 147.4,376.3 147.6,376.7 147.8,377.0 147.9,377.4 148.1,377.8 148.2,378.2 148.4,378.5 148.5,378.9 148.7,379.3 148.7,378.9 148.7,378.5 148.7,378.1 148.7,377.7 148.7,377.3 148.7,376.9 148.7,376.5 148.7,376.1 148.8,375.7 148.8,375.3 148.8,374.9 148.8,374.5 148.8,374.1 148.8,373.7 148.8,373.2 148.8,372.8 148.8,372.4 148.8,372.0 148.8,371.6 148.8,371.2 148.8,370.8 148.8,370.4 148.8,370.0 148.8,369.6 148.8,369.2 148.9,368.8 148.9,368.4 148.9,368.0 148.9,367.6 148.9,367.2 148.9,366.8 148.9,366.4 148.9,366.0 148.9,365.6 148.9,365.2 148.9,364.8 148.9,364.4 148.9,364.0 148.9,363.6 148.9,363.2 148.9,362.8 148.9,362.4 149.0,361.9 149.0,361.5 149.0,361.1 149.0,360.7 149.0,360.3 149.0,359.9 149.0,359.5 149.0,359.1 149.0,358.7 149.0,358.3 149.0,357.9 149.0,357.5 149.0,357.1 149.0,356.7 149.0,356.3 149.0,355.9 149.0,355.5 149.1,355.1 149.1,354.7 149.1,354.3 149.1,353.9 149.1,353.5 149.1,353.1 149.1,352.7 149.1,352.3 149.1,351.9 149.1,351.5 149.1,351.1 149.1,350.6 149.1,350.2 149.1,349.8 149.1,349.4 149.1,349.0 149.1,348.6 149.2,348.2 149.2,347.8 149.2,347.4 149.2,347.0 149.2,346.6 149.2,346.2 149.2,345.8 149.2,345.4 149.2,345.0 149.2,344.6 149.3,344.2 149.3,343.8 149.3,343.4 149.4,343.0 149.4,342.6 149.4,342.2 149.5,341.7 149.5,341.3 149.5,340.9 149.6,340.5 149.6,340.1 149.6,339.7 149.7,339.3 149.7,338.9 149.7,338.5 149.7,338.1 149.8,337.7 149.8,337.3 149.8,336.9 149.9,336.5 149.9,336.1 149.9,335.7 150.0,335.2 150.0,334.8 150.0,334.4 150.1,334.0 150.1,333.6 150.1,333.2 150.2,332.8 150.2,332.6 150.5,331.9 150.7,331.3 151.0,331.0 151.2,331.0 151.5,330.8 151.8,330.1 152.0,330.3 152.3,329.3 152.5,329.5 152.8,329.1 153.2,328.5 153.6,329.1 154.1,328.6 154.5,328.6 154.9,328.6 155.3,328.5 155.8,328.2 156.2,327.7 156.6,328.4 157.0,328.5 157.4,328.0 157.9,328.1 158.3,327.7 158.7,328.4 159.2,328.1 159.6,327.5 160.0,328.2 160.4,328.4 160.8,327.7 161.2,328.5 161.6,327.9 162.0,327.6 162.4,328.3 162.9,327.9 163.3,328.3 163.7,328.2 164.1,327.7 164.5,328.2 164.9,328.6 165.3,328.2 165.7,328.3 166.1,328.7 166.5,328.3 166.9,328.4 167.3,328.5 167.8,328.8 168.2,328.2 168.6,328.1 169.0,328.9 169.4,328.7 169.8,328.5 170.2,329.1 170.6,329.2 171.0,329.0 171.4,329.6 171.8,329.5 172.1,329.6 172.5,329.2 172.9,329.1 173.3,329.9 173.7,330.0 174.1,329.8 174.5,330.0 174.9,330.2 175.2,330.1 175.6,330.6 176.0,330.6 176.4,330.6 176.8,330.4 177.1,331.1 177.5,331.1 177.8,331.7 178.1,331.4 178.5,331.8 178.8,331.9 179.1,332.3 179.5,332.7 179.8,332.5 180.2,332.7 180.5,333.3 180.8,333.3 181.2,333.8 181.5,333.7 181.8,333.9 182.2,334.5 182.5,335.1 182.8,335.3 183.1,335.3 183.4,335.4 183.8,335.4 184.1,335.9 184.4,336.2 184.7,337.0 185.0,336.6 185.3,337.6 185.7,337.4 186.0,337.7 186.3,337.8 186.6,338.7 186.9,338.3 187.2,338.9 187.5,339.1 187.9,339.1 188.2,339.4 188.5,340.3 188.8,340.4 189.1,340.7 189.4,341.1 189.7,340.8 190.0,341.5 190.3,341.9 190.6,341.8 190.9,342.2 191.2,342.9 191.5,342.7 191.8,343.3 192.1,343.2 192.4,343.9 192.7,343.9 193.0,344.3 193.3,344.5 193.6,345.2 193.9,345.4 194.2,345.5 194.4,346.0 194.7,346.1 194.9,346.7 195.2,346.7 195.4,347.2 195.7,347.6 195.9,347.8 196.2,347.9 196.5,348.3 196.7,348.9 197.0,349.0 197.2,349.7 197.5,349.8 197.7,350.4 198.0,350.7 198.2,351.0 198.5,351.1 198.7,351.3 198.9,351.9 199.2,352.4 199.4,352.8 199.6,352.7 199.9,353.0 200.1,353.8 200.3,354.1 200.5,354.3 200.8,354.7 201.0,354.8 201.2,355.3 201.5,355.7 201.7,356.0 201.9,356.1 202.2,356.5 202.4,357.1 202.6,357.6 202.8,357.6 203.0,357.9 203.2,358.3 203.4,359.0 203.6,359.2 203.8,359.6 203.9,360.2 204.1,360.4 204.3,360.6 204.5,361.2 204.7,361.3 204.9,361.8 205.1,362.3 205.3,362.5 205.5,362.8 205.7,363.4 205.8,363.7 206.0,364.3 206.2,364.3 206.3,365.0 206.5,365.2 206.7,365.7 206.8,365.9 207.0,366.4 207.2,366.6 207.4,366.9 207.5,367.4 207.7,367.9 207.9,368.1 208.0,368.4 208.2,368.9 208.4,369.1 208.5,369.6 208.7,370.0 208.9,370.4 209.1,370.8 209.3,371.0 209.5,371.3 209.7,371.7 209.9,372.1 210.1,372.5 210.3,373.0 210.5,373.2 210.7,373.8 210.9,374.1 211.1,374.5 211.3,374.8 211.5,375.1 211.7,375.5 211.9,375.8 212.1,376.1 212.3,376.6 212.5,376.9 212.8,377.1 213.0,377.7 213.2,377.9 213.4,378.3 213.6,378.6 213.8,378.8 214.0,379.4 214.2,379.5 214.5,379.9 214.7,380.4 214.9,380.6 215.1,381.0 215.4,381.3 215.7,381.5 215.9,382.0 216.2,382.2 216.5,382.4 216.8,382.7 217.1,383.0 217.4,383.4 217.7,383.7 217.9,384.0 218.2,384.1 218.5,384.5 218.9,384.6 219.3,384.8 219.7,385.0 220.2,385.2 220.6,385.3 221.0,385.5 221.4,385.7 221.4,385.3 221.4,384.9 221.4,384.5 221.4,384.1 221.4,383.7 221.4,383.3 221.5,382.9 221.5,382.5 221.5,382.1 221.5,381.7 221.5,381.3 221.5,380.9 221.5,380.5 221.5,380.1 221.5,379.7 221.5,379.3 221.5,378.9 221.5,378.5 221.5,378.1 221.6,377.7 221.6,377.3 221.6,376.9 221.6,376.5 221.6,376.1 221.6,375.7 221.6,375.3 221.6,374.9 221.6,374.5 221.6,374.1 221.6,373.7 221.6,373.3 221.7,372.9 221.7,372.4 221.7,372.0 221.7,371.6 221.7,371.2 221.7,370.8 221.7,370.4 221.7,370.0 221.7,369.6 221.7,369.2 221.7,368.8 221.7,368.4 221.7,368.0 221.8,367.6 221.8,367.2 221.8,366.8 221.8,366.4 221.8,366.0 221.8,365.6 221.8,365.2 221.8,364.8 221.8,364.4 221.8,364.0 221.8,363.6 221.8,363.2 221.8,362.8 221.9,362.4 221.9,362.0 221.9,361.6 221.9,361.2 221.9,360.8 221.9,360.4 221.9,360.0 221.9,359.6 221.9,359.2 222.0,358.8 222.0,358.4 222.0,358.0 222.0,357.6 222.0,357.2 222.1,356.8 222.1,356.4 222.1,356.0 222.1,355.6 222.1,355.2 222.2,354.8 222.2,354.4 222.2,354.0 222.2,353.6 222.2,353.2 222.3,352.8 222.3,352.4 222.3,352.0 222.3,351.5 222.3,351.1 222.3,350.7 222.4,350.3 222.4,349.9 222.4,349.5 222.4,349.1 222.4,348.7 222.5,348.3 222.5,347.9 222.5,347.5 222.5,347.1 222.5,346.7 222.6,346.3 222.6,345.9 222.6,345.5 222.6,345.1 222.6,344.7 222.7,344.3 222.7,343.9 222.7,343.2 222.8,343.5 223.0,342.3 223.1,342.7 223.2,341.6 223.3,341.1 223.5,341.4 223.6,340.7 223.7,340.6 223.9,339.9 224.0,339.7 224.3,338.7 224.7,339.2 225.0,338.7 225.3,339.0 225.7,337.7 226.1,337.7 226.6,338.4 227.0,338.7 227.4,338.0 227.8,338.3 228.2,338.2 228.6,338.1 229.0,338.3 229.3,338.7 229.7,338.0 230.1,338.5 230.5,339.2 230.9,338.7 231.3,339.2 231.7,339.0 232.1,339.3 232.4,339.8 232.8,340.0 233.2,340.4 233.6,339.9 234.0,339.7 234.4,340.0 234.8,339.8 235.1,340.2 235.5,340.7 235.9,340.9 236.3,340.6 236.7,340.6 237.1,340.7 237.5,340.9 237.8,341.5 238.2,341.3 238.6,342.3 239.0,342.0 239.4,341.8 239.8,342.1 240.1,341.7 240.5,342.8 240.9,342.9 241.3,342.6 241.7,343.2 242.1,342.7 242.5,342.8 242.8,343.0 243.2,343.1 243.6,343.7 244.0,343.9 244.4,344.2 244.8,343.5 245.2,344.5 245.5,344.3 245.9,344.3 246.3,344.6 246.7,344.7 247.1,344.5 247.5,344.9 247.8,345.4 248.2,345.6 248.6,346.0 249.0,345.2 249.4,346.2 249.8,346.2 250.2,346.1 250.6,346.6 251.0,345.6 251.4,346.5 251.8,346.8 252.2,345.9 252.6,346.6 253.0,347.1 253.4,346.4 253.8,347.2 254.2,347.3 254.6,346.8 255.0,346.6 255.3,346.7 255.7,347.6 256.1,347.2 256.5,347.2 256.9,347.4 257.3,348.1 257.7,347.4 258.1,347.2 258.5,348.4 258.9,347.7 259.3,347.9 259.7,348.7 260.1,348.0 260.5,347.8 260.9,348.9 261.3,348.2 261.7,348.3 262.1,349.3 262.5,348.5 262.9,349.5 263.2,348.9 263.6,349.0 264.0,349.0 264.4,349.5 264.8,349.7 265.2,349.6 265.5,349.9 265.9,349.8 266.3,350.5 266.7,350.8 267.1,350.7 267.5,350.9 267.9,350.1 268.2,350.5 268.6,350.5 269.0,350.6 269.4,351.7 269.8,351.8 270.2,351.9 270.6,351.6 270.9,351.2 271.3,351.7 271.7,351.4 272.1,352.5 272.5,351.9 272.9,352.0 273.2,352.9 273.6,352.2 274.0,353.2 274.4,352.6 274.8,353.1 275.2,352.6 275.6,353.6 275.9,353.1 276.3,353.2 276.7,353.7 277.1,353.7 277.5,353.4 277.9,353.4 278.2,354.0 278.6,353.5 279.0,354.6 279.4,354.1 279.8,354.0 280.2,354.3 280.6,354.2 280.9,354.5 281.3,354.9 281.7,354.9 282.1,354.9 282.5,355.0 282.9,355.3 283.3,355.8 283.6,355.5 284.0,356.0 284.4,355.8 284.8,355.5 285.2,355.6 285.6,356.5 285.9,356.2 286.3,356.2 286.7,356.5 287.1,357.0 287.5,356.6 287.8,356.8 288.2,357.0 288.6,356.8 289.0,357.6 289.3,357.7 289.7,357.9 290.1,358.1 290.5,358.3 290.8,358.7 291.2,358.4 291.6,359.4 292.0,358.6 292.3,359.6 292.7,359.0 293.1,359.8 293.5,359.4 293.9,359.3 294.3,360.0 294.6,360.5 295.0,360.6 295.4,360.8 295.8,361.1 296.2,360.3 296.6,360.8 296.9,360.6 297.3,361.5 297.7,361.3 298.1,361.8 298.5,362.0 298.9,362.3 299.2,362.2 299.6,362.5 300.0,362.3 300.4,362.0 300.8,363.0 301.1,362.4 301.5,362.5 301.9,363.4 302.3,363.0 302.6,363.6 303.0,363.1 303.4,363.5 303.8,364.1 304.1,363.6 304.5,364.2 304.9,364.8 305.3,364.3 305.6,364.9 306.0,365.1 306.4,365.1 306.8,365.4 307.1,365.5 307.5,365.1 307.9,365.4 308.3,365.9 308.6,366.4 309.0,365.9 309.4,366.4 309.8,366.1 310.1,366.9 310.5,366.7 310.9,367.0 311.3,367.3 311.6,367.0 312.0,367.6 312.4,367.9 312.8,368.1 313.1,367.8 313.5,367.9 313.8,368.0 314.2,368.9 314.5,368.6 314.9,368.8 315.3,369.1 315.6,369.4 316.0,369.3 316.3,369.5 316.7,370.0 317.1,370.2 317.4,370.0 317.8,370.0 318.1,370.9 318.5,370.9 318.9,371.0 319.2,371.0 319.6,371.6 319.9,371.4 320.3,371.4 320.6,371.5 321.0,371.9 321.4,372.3 321.8,372.3 322.1,372.9 322.5,372.8 322.9,372.9 323.3,373.2 323.6,373.3 324.0,373.5 324.4,373.6 324.8,373.8 325.1,373.9 325.5,374.4 325.9,374.1 326.3,374.7 326.7,374.5 327.0,375.1 327.4,374.7 327.8,375.2 328.2,375.3 328.5,375.7 328.9,375.5 329.3,375.7 329.6,375.9 330.0,376.4 330.3,376.6 330.7,376.4 331.0,376.7 331.4,377.0 331.7,377.7 332.0,377.5 332.4,377.8 332.7,377.8 333.1,378.3 333.4,378.6 333.8,378.7 334.1,378.5 334.4,379.0 334.8,379.2 335.1,379.2 335.5,379.8 335.8,379.7 336.2,379.9 336.5,380.3 336.9,380.5 337.2,380.7 337.5,381.1 337.9,381.1 338.2,381.2 338.6,381.3 338.9,381.8 339.3,381.9 339.6,382.2 339.9,382.3 340.3,382.3 340.6,382.5 341.0,382.8 341.3,383.0 341.7,383.6 342.0,383.6 342.4,383.7 342.7,384.1 343.1,384.3 343.4,384.2 343.8,384.7 344.1,384.7 344.5,385.2 344.8,385.0 345.2,385.3 345.5,385.5 345.9,386.0 346.2,386.1 346.6,386.2 346.9,386.2 347.3,386.6 347.6,386.9 348.0,386.8 348.4,387.4 348.7,387.5 349.1,387.8 349.4,387.9 349.8,388.0 350.1,388.4 350.5,388.3 350.8,388.5 351.2,388.7 351.5,388.9 351.9,389.3 352.2,389.3 352.6,389.7 352.9,389.8 353.3,390.1 353.6,390.3 354.0,390.5 354.3,390.7 354.7,390.7 355.1,390.9 355.5,391.1 355.8,391.2 356.2,391.5 356.6,391.7 357.0,391.8 357.4,392.0 357.7,392.1 358.1,392.1 358.5,392.3 358.9,392.5 359.2,392.7 359.6,392.8 360.0,392.9 360.4,393.1 360.8,393.2 361.1,393.5 361.5,393.4 361.9,393.7" fill="none" stroke="#ff8a04" stroke-width="2.3" stroke-linejoin="round" stroke-linecap="butt"/>
<polyline clip-path="url(#cl)" points="77.3,154.4 77.3,155.4 77.3,156.4 77.4,157.5 77.4,158.5 77.4,159.5 77.4,160.5 77.4,161.5 77.5,162.5 77.5,163.6 77.5,164.6 77.5,165.6 77.5,166.6 77.6,167.6 77.6,168.6 77.6,169.7 77.6,170.7 77.6,171.7 77.7,172.7 77.7,173.7 77.7,174.7 77.7,175.8 77.7,176.8 77.8,177.8 77.8,178.8 77.8,179.8 77.8,180.8 77.8,181.9 77.9,182.9 77.9,183.9 77.9,184.9 77.9,185.9 77.9,186.9 78.0,188.0 78.0,189.0 78.0,190.0 78.0,191.0 78.1,192.0 78.1,193.0 78.2,194.0 78.2,195.0 78.2,196.0 78.3,197.0 78.3,198.0 78.3,199.0 78.4,200.0 78.4,201.0 78.5,202.0 78.5,203.0 78.5,204.0 78.6,205.0 78.6,206.0 78.6,207.0 78.7,208.0 78.7,209.0 78.8,210.0 78.8,211.0 78.8,212.0 78.9,213.0 78.9,214.0 78.9,215.0 79.0,216.0 79.0,217.0 79.0,218.0 79.1,219.0 79.1,220.0 79.2,221.0 79.2,222.0 79.4,223.1 79.5,224.2 79.7,225.2 79.9,226.3 80.0,227.4 80.2,228.5 80.6,229.7 81.1,230.8 81.5,232.0 81.7,233.0 81.8,234.0 82.0,235.0 82.1,236.0 82.3,237.0 82.4,238.0 82.5,239.0 82.6,240.0 82.7,241.0 82.8,242.0 82.9,243.0 83.0,242.0 83.1,241.0 83.2,240.0 83.2,239.0 83.3,238.0 83.4,237.0 83.6,235.9 83.7,234.9 83.8,233.9 84.0,232.8 84.1,233.8 84.3,234.9 84.4,235.9 84.6,237.0 84.7,238.0 84.8,239.0 84.9,240.0 85.0,241.0 85.1,242.0 85.1,243.0 85.2,244.0 85.3,245.0 85.4,246.0 85.5,247.0 85.6,248.0 85.7,249.0 85.8,250.0 85.8,251.0 85.9,252.0 86.0,253.0 86.1,254.0 86.2,255.0 86.3,256.0 86.4,257.0 86.6,258.0 86.7,259.0 86.8,260.0 87.0,261.0 87.1,262.0 87.2,263.0 87.4,264.0 87.5,265.0 87.7,266.0 87.8,267.0 87.9,268.0 88.1,269.0 88.2,270.0 88.3,271.0 88.5,272.0 88.6,273.0 88.8,274.0 88.9,275.0 89.1,276.0 89.2,277.0 89.4,278.0 89.5,279.0 89.7,280.0 89.8,281.0 90.0,282.0 90.1,283.0 90.1,282.0 90.2,281.0 90.2,280.0 90.2,279.0 90.3,278.0 90.3,277.0 90.3,276.0 90.3,275.0 90.4,274.0 90.4,273.0 90.4,272.0 90.5,271.0 90.5,270.0 90.6,268.9 90.7,267.8 90.7,266.7 90.8,265.6 90.9,264.6 91.0,263.5 91.0,262.4 91.1,261.3 91.2,260.2 91.4,261.2 91.7,262.2 91.9,263.1 92.1,264.1 92.3,265.1 92.6,266.1 92.8,267.1 93.0,268.1 93.2,269.1 93.5,270.0 93.7,271.0 93.9,272.0 94.1,273.0 94.3,274.0 94.5,275.0 94.8,276.0 95.0,277.0 95.2,278.0 95.4,279.0 95.6,280.0 95.8,281.0 96.0,282.0 96.2,283.0 96.5,284.0 96.7,285.0 96.9,286.0 97.1,287.0 97.3,288.0 97.6,289.0 98.0,290.0 98.3,291.0 98.6,292.0 99.0,293.0 99.3,294.0 99.6,295.0 99.8,296.0 100.1,297.0 100.4,298.0 100.7,299.0 100.9,300.0 101.2,301.0 101.5,302.0 101.7,303.0 102.0,304.0 102.3,305.0 102.6,305.9 102.8,306.9 103.1,307.9 103.4,308.8 103.7,309.8 103.9,310.8 104.2,311.7 104.5,312.7 104.5,311.6 104.6,310.6 104.6,309.6 104.6,308.5 104.7,307.4 104.7,306.4 104.8,305.4 104.8,304.3 104.8,303.2 104.9,302.2 104.9,301.1 104.9,300.1 105.0,299.1 105.0,298.0 105.1,296.9 105.1,295.9 105.2,294.8 105.3,293.7 105.3,292.6 105.4,291.6 105.5,290.5 105.5,289.4 105.6,288.3 105.7,287.2 105.7,286.2 105.8,285.1 106.2,286.1 106.6,287.1 107.0,288.1 107.3,289.0 107.7,290.0 108.1,291.0 108.5,292.0 108.9,293.0 109.2,294.0 109.6,295.0 110.0,296.0 110.4,297.0 110.8,298.0 111.1,299.0 111.5,300.0 111.8,301.0 112.2,302.0 112.5,302.9 112.9,303.9 113.2,304.9 113.5,305.9 113.9,306.8 114.2,307.8 114.5,308.8 114.9,309.8 115.2,310.7 115.6,311.7 115.9,312.7 116.3,313.7 116.7,314.7 117.2,315.7 117.6,316.7 118.0,317.6 118.4,318.6 118.9,319.6 119.3,320.6 119.7,321.6 120.2,322.5 120.6,323.4 121.1,324.3 121.6,325.2 122.0,326.1 122.5,327.0 122.9,328.0 123.2,329.0 123.6,330.0 124.0,331.0 124.4,332.0 124.8,333.0 125.1,334.0 125.5,335.0 125.9,336.0 126.2,337.0 126.6,338.0 127.0,339.0 127.3,340.0 127.7,341.0 128.1,342.0 128.4,343.0 128.8,344.0 129.1,345.0 129.4,346.0 129.8,347.0 130.2,348.0 130.5,349.0 130.9,350.0 131.2,351.0 131.6,352.0 132.0,353.1 132.4,354.1 132.7,355.1 133.1,356.1 133.1,355.1 133.1,354.1 133.2,353.1 133.2,352.1 133.2,351.1 133.2,350.1 133.3,349.1 133.3,348.1 133.3,347.1 133.3,346.1 133.4,345.0 133.4,344.0 133.4,343.0 133.4,342.0 133.5,341.0 133.5,340.0 133.5,339.0 133.5,338.0 133.6,337.0 133.6,336.0 133.6,335.0 133.7,334.0 133.7,333.0 133.8,332.0 133.8,331.0 133.9,330.0 133.9,329.0 134.0,328.0 134.0,327.0 134.1,326.0 134.1,325.0 134.2,324.0 134.2,323.0 134.3,322.0 134.7,320.9 135.2,319.8 135.6,318.7 136.0,318.9 136.4,319.2 136.7,319.2 137.1,319.0 137.5,319.7 137.9,319.7 138.2,320.5 138.6,320.6 139.0,320.4 139.4,321.0 139.7,321.2 140.1,320.6 140.4,321.6 140.8,321.8 141.2,322.2 141.5,322.2 141.9,322.0 142.2,322.0 142.6,322.7 142.9,322.5 143.3,323.3 143.6,323.4 143.9,324.0 144.3,323.7 144.6,324.0 144.9,324.9 145.2,325.0 145.5,325.0 145.9,325.5 146.2,325.6 146.5,326.2 146.8,326.3 147.2,326.3 147.5,327.3 147.8,327.5 148.2,327.6 148.5,327.4 148.9,327.6 149.2,328.4 149.5,328.8 149.9,328.9 150.2,328.7 150.5,329.5 150.8,329.6 151.2,329.7 151.5,330.1 151.8,330.3 152.1,330.7 152.4,331.1 152.8,331.6 153.1,331.0 153.4,331.7 153.7,332.4 154.0,332.3 154.4,332.5 154.7,333.1 155.0,332.5 155.3,333.5 155.6,333.6 156.0,333.9 156.3,333.9 156.6,334.4 156.9,334.3 157.1,335.0 157.4,335.0 157.6,336.0 157.9,336.2 158.2,336.2 158.4,336.7 158.7,336.7 159.0,337.2 159.2,337.1 159.5,338.1 159.7,338.3 160.0,338.6 160.3,338.3 160.6,339.3 160.8,338.8 161.1,339.6 161.4,339.8 161.7,339.7 162.0,340.3 162.2,341.0 162.5,341.1 162.8,341.1 163.1,341.8 163.4,341.7 163.7,342.5 163.9,342.3 164.2,342.4 164.5,343.4 164.8,343.0 165.0,343.4 165.3,344.1 165.6,344.0 165.8,344.6 166.1,345.1 166.4,345.3 166.6,345.4 166.9,346.0 167.2,346.4 167.4,346.5 167.7,346.8 168.0,347.0 168.2,347.3 168.5,348.0 168.7,348.3 169.0,348.0 169.2,348.5 169.4,348.8 169.7,349.5 169.9,349.5 170.2,349.8 170.4,350.5 170.6,350.5 170.9,351.3 171.1,351.3 171.3,351.9 171.6,352.2 171.8,352.2 172.1,352.8 172.3,353.0 172.5,353.2 172.8,353.4 173.0,354.1 173.2,354.4 173.4,354.6 173.7,355.2 173.9,355.3 174.1,355.7 174.3,355.9 174.5,356.4 174.7,357.0 174.9,357.2 175.2,357.4 175.4,357.8 175.6,358.3 175.8,358.5 176.0,359.2 176.2,359.1 176.5,359.9 176.7,360.1 176.9,360.5 177.1,360.7 177.2,361.0 177.4,361.4 177.6,362.0 177.7,362.1 177.9,362.5 178.1,363.1 178.3,363.6 178.4,363.9 178.6,364.3 178.8,364.5 178.9,365.0 179.1,365.3 179.3,365.7 179.4,366.0 179.6,366.2 179.8,366.6 180.0,367.0 180.1,367.5 180.3,367.7 180.5,368.4 180.6,368.7 180.8,369.1 181.0,369.5 181.2,369.7 181.3,370.3 181.5,370.6 181.7,370.8 181.9,371.1 182.1,371.7 182.2,372.1 182.4,372.5 182.6,372.7 182.8,373.2 183.0,373.4 183.2,373.8 183.3,374.2 183.5,374.7 183.7,374.9 183.9,375.5 184.1,375.6 184.3,376.2 184.6,376.4 184.8,376.9 185.0,377.2 185.2,377.6 185.4,377.9 185.7,378.3 185.9,378.5 186.1,379.0 186.3,379.2 186.6,379.7 186.9,379.9 187.2,380.2 187.6,380.6 187.9,380.9 188.2,381.2 188.5,381.5 188.9,381.6 189.3,381.8 189.7,382.0 190.1,382.1 190.5,382.3 190.5,381.9 190.5,381.5 190.5,381.1 190.5,380.7 190.5,380.3 190.5,379.9 190.6,379.5 190.6,379.1 190.6,378.7 190.6,378.2 190.6,377.8 190.6,377.4 190.6,377.0 190.6,376.6 190.6,376.2 190.6,375.8 190.6,375.4 190.6,375.0 190.6,374.6 190.6,374.2 190.7,373.8 190.7,373.4 190.7,373.0 190.7,372.6 190.7,372.2 190.7,371.8 190.7,371.4 190.7,370.9 190.7,370.5 190.7,370.1 190.7,369.7 190.7,369.3 190.7,368.9 190.7,368.5 190.8,368.1 190.8,367.7 190.8,367.3 190.8,366.9 190.8,366.5 190.8,366.1 190.8,365.7 190.8,365.3 190.8,364.9 190.8,364.5 190.8,364.1 190.8,363.6 190.8,363.2 190.8,362.8 190.9,362.4 190.9,362.0 190.9,361.6 190.9,361.2 190.9,360.8 190.9,360.4 190.9,360.0 190.9,359.6 191.0,359.2 191.0,358.8 191.0,358.4 191.0,358.0 191.1,357.6 191.1,357.2 191.1,356.8 191.2,356.4 191.2,356.0 191.2,355.6 191.2,355.1 191.3,354.7 191.3,354.3 191.3,353.9 191.4,353.5 191.4,353.1 191.4,352.7 191.4,352.3 191.5,351.9 191.5,351.5 191.5,351.1 191.6,350.7 191.6,350.3 191.6,349.9 191.7,349.5 191.7,349.1 191.7,348.7 191.7,348.3 191.8,347.9 191.8,347.5 191.8,347.1 191.9,346.7 191.9,346.2 191.9,345.8 191.9,345.4 192.0,345.0 192.0,344.6 192.0,344.2 192.1,343.8 192.1,343.4 192.1,343.0 192.1,342.6 192.2,342.2 192.2,341.9 192.4,341.8 192.6,341.4 192.8,340.9 193.0,340.1 193.2,339.5 193.4,339.0 193.6,339.1 193.8,338.2 194.0,338.7 194.3,337.7 194.6,337.8 194.9,337.4 195.2,337.2 195.4,336.2 195.7,336.0 196.0,336.3 196.3,335.3 196.6,335.7 197.0,336.0 197.4,335.1 197.8,335.9 198.2,335.3 198.6,335.7 199.0,335.0 199.4,335.2 199.8,335.1 200.2,334.3 200.6,334.7 201.0,334.7 201.4,334.4 201.8,334.7 202.2,334.9 202.6,334.7 203.0,334.7 203.4,333.7 203.8,334.4 204.2,334.3 204.6,334.7 205.0,333.4 205.4,333.6 205.8,334.7 206.2,333.8 206.6,334.3 207.0,334.1 207.4,333.8 207.8,333.8 208.2,333.9 208.6,334.5 209.0,333.9 209.4,334.2 209.8,333.5 210.2,334.0 210.6,333.8 211.0,334.1 211.4,334.3 211.8,333.2 212.2,334.5 212.6,334.0 213.0,333.6 213.4,333.9 213.8,333.4 214.2,333.6 214.6,334.5 215.0,334.3 215.4,334.6 215.8,333.6 216.2,333.6 216.6,334.0 217.0,334.2 217.4,334.5 217.8,334.0 218.3,334.7 218.7,334.5 219.1,334.2 219.5,334.9 219.9,334.0 220.3,334.7 220.8,334.3 221.2,334.1 221.6,334.8 222.0,334.9 222.4,335.0 222.8,334.8 223.3,335.6 223.7,335.4 224.1,334.6 224.5,334.5 224.9,335.9 225.3,335.2 225.7,334.9 226.1,335.1 226.5,335.9 226.9,335.3 227.3,335.6 227.7,336.1 228.1,335.8 228.4,336.2 228.8,336.7 229.2,336.6 229.6,336.5 230.0,336.5 230.4,336.2 230.8,336.7 231.2,336.8 231.6,336.8 232.0,336.8 232.4,337.2 232.8,336.6 233.2,337.4 233.6,337.8 234.0,336.7 234.3,337.1 234.7,338.2 235.1,337.1 235.5,338.1 235.9,337.9 236.3,337.4 236.7,338.2 237.1,337.5 237.5,338.7 237.9,338.1 238.3,339.0 238.7,339.1 239.0,338.2 239.4,338.7 239.8,338.5 240.2,339.3 240.6,338.6 241.0,338.7 241.4,338.8 241.8,339.9 242.2,339.3 242.6,339.5 243.1,339.7 243.5,340.0 243.9,339.9 244.3,340.7 244.7,340.1 245.1,340.4 245.5,341.1 245.9,340.5 246.2,340.5 246.6,341.5 247.0,341.0 247.4,341.9 247.8,341.9 248.2,341.5 248.6,341.6 248.9,341.5 249.3,342.6 249.7,342.2 250.1,342.3 250.5,342.2 250.9,342.4 251.3,343.4 251.7,342.7 252.0,343.3 252.4,343.5 252.8,343.6 253.2,343.7 253.6,343.8 253.9,343.7 254.3,344.6 254.7,344.9 255.1,344.7 255.4,344.6 255.8,345.5 256.2,344.9 256.5,345.1 256.9,345.8 257.3,346.2 257.6,346.1 258.0,345.8 258.4,346.9 258.8,346.3 259.1,346.6 259.5,347.5 259.8,347.5 260.2,347.7 260.5,347.2 260.8,348.2 261.2,348.0 261.5,347.8 261.9,348.8 262.2,349.1 262.5,348.5 262.9,349.1 263.2,349.7 263.5,349.4 263.9,349.6 264.2,350.3 264.6,350.2 264.9,350.9 265.2,351.0 265.6,351.2 265.9,351.3 266.2,351.1 266.5,351.8 266.8,351.9 267.2,352.1 267.5,352.4 267.8,352.5 268.1,352.6 268.4,353.5 268.7,353.3 269.1,353.3 269.4,354.3 269.7,354.2 270.0,354.5 270.3,354.5 270.6,354.7 270.9,355.1 271.2,355.8 271.5,355.6 271.8,356.4 272.1,356.2 272.5,356.9 272.8,356.6 273.1,357.1 273.4,357.2 273.7,357.4 274.0,358.0 274.3,358.2 274.6,358.6 274.9,358.6 275.2,358.9 275.5,359.2 275.8,359.9 276.1,359.6 276.5,360.1 276.8,360.7 277.1,360.8 277.4,360.8 277.7,361.6 278.0,361.3 278.3,361.6 278.6,361.8 278.9,362.4 279.2,362.9 279.4,362.9 279.7,363.2 280.0,363.8 280.3,363.7 280.6,364.0 280.8,364.7 281.1,364.6 281.4,365.2 281.7,365.3 282.0,365.9 282.2,366.3 282.5,366.4 282.8,366.6 283.1,367.1 283.3,367.4 283.6,367.4 283.9,367.8 284.2,368.2 284.5,368.6 284.7,368.8 285.0,369.3 285.3,369.4 285.6,370.0 285.9,370.0 286.2,370.2 286.5,370.5 286.8,370.8 287.1,371.1 287.5,371.7 287.8,371.8 288.1,372.1 288.4,372.6 288.7,372.9 289.0,373.1 289.3,373.2 289.6,373.5 289.9,373.9 290.2,374.1 290.5,374.4 290.8,374.6 291.1,374.9 291.4,375.4 291.7,375.7 292.0,375.9 292.3,376.2 292.6,376.6 292.9,376.9 293.2,376.9 293.6,377.4 293.9,377.5 294.3,377.7 294.6,378.2 294.9,378.3 295.3,378.4 295.6,378.6 296.0,379.0 296.3,379.2 296.7,379.4 297.0,379.6 297.4,379.9 297.8,380.0 298.2,380.3 298.6,380.4 298.9,380.5 299.3,380.8 299.7,380.9 300.1,381.0 300.5,381.2 300.9,381.4" fill="none" stroke="#000000" stroke-width="2.3" stroke-linejoin="round" stroke-linecap="butt"/>
<polyline clip-path="url(#cl)" points="94.8,248.5 113.0,298.8 131.3,292.4 149.5,307.6 167.8,328.6 186.0,350.7 204.3,315.7 222.5,321.2 240.8,331.0 259.0,341.0 277.2,352.0 295.5,366.0 313.7,380.2 332.0,390.8 350.2,329.7 368.5,333.2 386.7,336.7 405.0,338.6 423.2,342.4 441.5,346.2 459.7,351.7 477.9,357.2 496.2,362.7 514.4,370.2 532.7,376.5 550.9,385.0 569.2,392.0 587.4,398.9 605.7,403.7 623.9,406.3 642.1,338.9 660.4,340.3 678.6,341.7 696.9,343.7 715.1,344.7 733.4,346.9 751.6,346.0" fill="none" stroke="#48d1cc" stroke-width="2.3" stroke-linejoin="round" stroke-linecap="butt"/>
<polyline clip-path="url(#cr)" points="845.0,176.0 845.4,205.0 846.0,223.0 847.1,240.0 847.8,257.0 849.0,266.0 851.0,275.0 852.3,282.6 853.5,285.0 854.4,285.2 855.5,288.0 857.8,293.6 860.0,297.3 862.0,299.6 864.0,300.8 865.8,300.8 867.5,303.0 870.5,306.4 873.5,309.0 876.4,311.0 880.0,312.6 884.1,313.6 887.5,313.9 890.5,313.7 894.0,315.8 898.1,317.8 904.0,319.7 910.8,321.0 920.0,322.1 929.9,322.9 939.0,323.6 949.0,325.0 960.0,326.0 974.4,327.0 990.0,327.8 1012.5,328.4 1037.5,329.0 1052.0,329.2 1080.0,330.0 1125.0,330.9 1167.0,332.0 1200.0,332.3 1224.0,332.4" fill="none" stroke="#1f77b4" stroke-width="2.3" stroke-linejoin="round" stroke-linecap="butt"/>
<polyline clip-path="url(#cr)" points="845.1,175.0 845.6,205.0 846.3,223.0 847.2,240.0 848.5,250.0 850.2,261.2 852.3,270.0 853.6,275.0 855.7,284.3 858.2,289.0 860.8,289.8 862.5,293.0 865.4,297.9 869.7,302.1 873.0,303.8 875.6,304.7 879.0,304.3 881.5,306.5 885.8,309.7 890.0,312.3 895.1,314.6 898.1,315.7 905.0,316.8 910.8,317.3 915.9,317.5 920.0,318.7 929.9,321.0 940.0,322.7 949.0,323.6 960.0,324.4 974.4,325.1 986.8,325.8 1000.0,326.5 1012.5,327.1 1040.0,328.4 1080.0,329.4 1124.9,329.9" fill="none" stroke="#ff8a04" stroke-width="2.3" stroke-linejoin="round" stroke-linecap="butt"/>
<polyline clip-path="url(#cr)" points="845.3,169.0 845.8,190.0 846.4,205.0 847.3,223.0 848.5,240.0 849.7,250.2 851.6,251.2 852.7,261.2 854.0,268.5 855.3,273.9 858.2,274.5 859.9,281.0 860.6,284.5 861.8,287.5 863.7,290.5 866.0,293.0 868.0,294.1 870.5,294.0 872.2,293.0 874.0,296.5 876.4,299.6 879.0,302.2 882.4,304.9 886.0,307.0 890.8,308.6 895.9,308.9 900.1,308.3 902.5,310.2 906.1,312.3 910.8,314.2 916.0,316.0 923.5,317.9 931.0,319.3 938.8,320.1 949.0,320.0 956.2,319.4 960.0,320.6 968.0,322.2 977.0,323.5 987.0,324.5 1000.0,325.4 1012.5,326.0 1030.0,326.6 1052.0,327.0 1065.4,326.9" fill="none" stroke="#000000" stroke-width="2.3" stroke-linejoin="round" stroke-linecap="butt"/>
<polyline clip-path="url(#cr)" points="862.2,245.3 880.1,275.6 898.0,285.5 915.9,295.3 933.9,300.0 951.8,301.3 969.7,304.4 987.6,308.4 1005.5,312.0 1023.4,314.8 1041.3,316.4 1059.2,317.4 1077.2,318.3 1095.1,318.4 1113.0,317.8 1130.9,319.9 1148.8,321.3 1166.7,322.6 1184.6,323.4 1202.5,324.0 1220.5,325.1 1238.4,325.6 1256.3,326.1 1274.2,326.5 1292.1,326.9 1310.0,327.2 1327.9,327.4 1345.9,327.6 1363.8,327.7 1381.7,327.8 1399.6,325.6 1417.5,326.2 1435.4,326.8 1453.3,327.3 1471.2,327.7 1489.2,328.1 1507.1,328.5" fill="none" stroke="#48d1cc" stroke-width="2.3" stroke-linejoin="round" stroke-linecap="butt"/>
<rect x="76.5" y="23.0" width="675.0" height="401.0" fill="none" stroke="#b2b2b2" stroke-width="1"/>
<rect x="844.5" y="23.0" width="663.0" height="401.0" fill="none" stroke="#b2b2b2" stroke-width="1"/>
<text x="76.5" y="441" font-size="20.5" text-anchor="middle">0.0</text>
<text x="144.0" y="441" font-size="20.5" text-anchor="middle">0.54</text>
<text x="211.5" y="441" font-size="20.5" text-anchor="middle">1.07</text>
<text x="279.0" y="441" font-size="20.5" text-anchor="middle">1.61</text>
<text x="346.5" y="441" font-size="20.5" text-anchor="middle">2.15</text>
<text x="414.0" y="441" font-size="20.5" text-anchor="middle">2.69</text>
<text x="481.5" y="441" font-size="20.5" text-anchor="middle">3.22</text>
<text x="549.0" y="441" font-size="20.5" text-anchor="middle">3.76</text>
<text x="616.5" y="441" font-size="20.5" text-anchor="middle">4.3</text>
<text x="684.0" y="441" font-size="20.5" text-anchor="middle">4.84</text>
<text x="844.5" y="441" font-size="20.5" text-anchor="middle">0.0</text>
<text x="910.8" y="441" font-size="20.5" text-anchor="middle">0.54</text>
<text x="977.1" y="441" font-size="20.5" text-anchor="middle">1.07</text>
<text x="1043.4" y="441" font-size="20.5" text-anchor="middle">1.61</text>
<text x="1109.7" y="441" font-size="20.5" text-anchor="middle">2.15</text>
<text x="1176.0" y="441" font-size="20.5" text-anchor="middle">2.69</text>
<text x="1242.3" y="441" font-size="20.5" text-anchor="middle">3.22</text>
<text x="1308.6" y="441" font-size="20.5" text-anchor="middle">3.76</text>
<text x="1374.9" y="441" font-size="20.5" text-anchor="middle">4.3</text>
<text x="1441.2" y="441" font-size="20.5" text-anchor="middle">4.84</text>
<text x="76.4" y="28.5" font-size="20.5" text-anchor="end">10<tspan font-size="15.2" dy="-8.0" dx="0.1">1</tspan></text>
<text x="76.4" y="162.2" font-size="20.5" text-anchor="end">10<tspan font-size="15.2" dy="-8.0" dx="0.1">0</tspan></text>
<text x="76.4" y="295.8" font-size="20.5" text-anchor="end">10<tspan font-size="15.2" dy="-8.0" dx="0.1">−1</tspan></text>
<text x="76.4" y="429.5" font-size="20.5" text-anchor="end">10<tspan font-size="15.2" dy="-8.0" dx="0.1">−2</tspan></text>
<text x="844.4" y="28.5" font-size="20.5" text-anchor="end">10<tspan font-size="15.2" dy="-8.0" dx="0.1">1</tspan></text>
<text x="844.4" y="229.0" font-size="20.5" text-anchor="end">10<tspan font-size="15.2" dy="-8.0" dx="0.1">0</tspan></text>
<text x="844.4" y="429.5" font-size="20.5" text-anchor="end">10<tspan font-size="15.2" dy="-8.0" dx="0.1">−1</tspan></text>
<text x="413.5" y="21.1" font-size="23.6" text-anchor="middle">train loss of FeC systems(16084)</text>
<text x="413.4" y="464.1" font-size="23.6" text-anchor="middle">times(h)</text>
<text x="1175.5" y="21.1" font-size="23.6" text-anchor="middle">train loss of FeC systems(16084)</text>
<text x="1175.4" y="464.1" font-size="23.6" text-anchor="middle">times(h)</text>
<line x1="342.9" y1="53.80" x2="378.0" y2="53.80" stroke="#1f77b4" stroke-width="2.3"/>
<text x="402.4" y="62.00" font-size="23.6">batchLR-8g-b16-epoch1000</text>
<line x1="342.9" y1="88.47" x2="378.0" y2="88.47" stroke="#ff8a04" stroke-width="2.3"/>
<text x="402.4" y="96.67" font-size="23.6">batchLR-8g-b32-epoch1000</text>
<line x1="342.9" y1="123.14" x2="378.0" y2="123.14" stroke="#000000" stroke-width="2.3"/>
<text x="402.4" y="131.34" font-size="23.6">batchLR-8g-b64-epoch1000</text>
<line x1="342.9" y1="157.81" x2="378.0" y2="157.81" stroke="#48d1cc" stroke-width="2.3"/>
<text x="402.4" y="166.01" font-size="23.6">batch-1 (37 epochs)</text>
<line x1="1098.5" y1="53.80" x2="1133.6" y2="53.80" stroke="#1f77b4" stroke-width="2.3"/>
<text x="1158.0" y="62.00" font-size="23.6">batchLR-8g-b16-epoch1000</text>
<line x1="1098.5" y1="88.47" x2="1133.6" y2="88.47" stroke="#ff8a04" stroke-width="2.3"/>
<text x="1158.0" y="96.67" font-size="23.6">batchLR-8g-b32-epoch1000</text>
<line x1="1098.5" y1="123.14" x2="1133.6" y2="123.14" stroke="#000000" stroke-width="2.3"/>
<text x="1158.0" y="131.34" font-size="23.6">batchLR-8g-b64-epoch1000</text>
<line x1="1098.5" y1="157.81" x2="1133.6" y2="157.81" stroke="#48d1cc" stroke-width="2.3"/>
<text x="1158.0" y="166.01" font-size="23.6">batch-1 (37 epochs)</text>
<g transform="translate(20.9,358) rotate(-90)">
<text x="-2.2" y="0" font-size="23.6">Energy/atom RMSE</text>
<text class="m" font-size="24.0" transform="translate(232.52,-3.37) scale(0.651,0.755)">(</text>
<text class="m" font-size="24.0" transform="translate(237.95,0.53) scale(1.012,0.975)">e</text>
<text class="m" font-size="24.0" transform="translate(249.50,0.21) scale(0.956,1.023)">V</text>
<text class="m" font-size="24.0" transform="translate(266.61,-3.46) scale(0.799,0.773)">)</text>
</g>
<g transform="translate(788.2,331.0) rotate(-90)">
<text x="-2.2" y="0" font-size="23.6">Force RMSE</text>
<text class="m" font-size="24.0" transform="translate(146.56,0.05) scale(1.125,1.076)">(</text>
<text class="m" font-size="24.0" transform="translate(155.07,0.02) scale(1.119,0.983)">e</text>
<text class="m" font-size="24.0" transform="translate(167.40,0.00) scale(0.904,1.029)">V</text>
<text class="m" font-size="24.0" transform="translate(183.00,4.76) scale(1.779,1.417)">/</text>
<text class="m" font-size="24.0" transform="translate(195.90,0.00) scale(0.829,1.066)">A</text>
<text class="m" font-size="12.0" transform="translate(198.35,-22.30) scale(1.199,1.033)">o</text>
<text class="m" font-size="24.0" transform="translate(210.27,0.05) scale(1.253,1.076)">)</text>
</g>
</svg></body></html>
